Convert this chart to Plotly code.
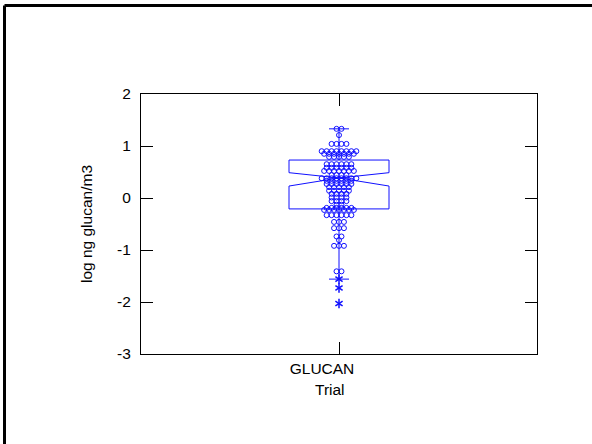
import plotly.graph_objects as go

# ---- data ----
category = "GLUCAN"
# dot-density rows: value (log ng glucan/m3) and number of observations in the row
row_values = [1.33, 1.21, 1.04, 0.90, 0.85, 0.79, 0.65, 0.58, 0.52, 0.44, 0.38, 0.33,
              0.27, 0.21, 0.14, 0.08, 0.01, -0.06, -0.13, -0.19, -0.23, -0.33, -0.46,
              -0.58, -0.74, -0.81, -0.92, -1.41]
row_counts = [2, 1, 4, 8, 7, 5, 6, 6, 7, 4, 8, 6,
              6, 5, 5, 4, 4, 4, 2, 6, 7, 6, 3,
              3, 2, 1, 3, 2]
outliers = [-1.56, -1.73, -2.03]
# box statistics
q1, median, q3 = -0.21, 0.385, 0.73
notch_low, notch_high = 0.23, 0.487
whisker_low, whisker_high = -1.56, 1.33
y_ticks = [-3, -2, -1, 0, 1, 2]
y_tick_text = ["-3", "-2", "-1", "0", "1", "2"]

BLUE = "#1010ff"
box_half = 0.2525
cap_half = 0.0505
dot_step = 0.025

fig = go.Figure()

# notched box outline
bx = [-box_half, -box_half, 0, -box_half, -box_half, box_half, box_half, 0, box_half, box_half, -box_half]
by = [q1, notch_low, median, notch_high, q3, q3, notch_high, median, notch_low, q1, q1]
fig.add_trace(go.Scatter(x=bx, y=by, mode="lines", line=dict(color=BLUE, width=1), hoverinfo="skip"))

# whiskers and caps
fig.add_trace(go.Scatter(x=[0, 0, None, 0, 0, None, -cap_half, cap_half, None, -cap_half, cap_half],
                         y=[q3, whisker_high, None, q1, whisker_low, None, whisker_high, whisker_high, None,
                            whisker_low, whisker_low],
                         mode="lines", line=dict(color=BLUE, width=1), hoverinfo="skip"))

# dots
dx, dy = [], []
for v, n in zip(row_values, row_counts):
    for i in range(n):
        dx.append((i - (n - 1) / 2) * dot_step)
        dy.append(v)
fig.add_trace(go.Scatter(x=dx, y=dy, mode="markers",
                         marker=dict(symbol="circle-open", size=5, color=BLUE, line=dict(width=1, color=BLUE))))

# outside values (six-armed asterisks)
for sym in ["y-up", "y-down"]:
    fig.add_trace(go.Scatter(x=[0] * len(outliers), y=outliers, mode="markers",
                             marker=dict(symbol=sym, size=6, color=BLUE, line=dict(width=1.5, color=BLUE))))

font = dict(family="Liberation Sans, Arial", size=15.5, color="black")
fig.update_layout(
    width=592, height=444,
    margin=dict(l=141, r=55, t=94, b=90),
    paper_bgcolor="white", plot_bgcolor="white",
    showlegend=False,
    font=font,
    xaxis=dict(range=[-1, 1], tickvals=[0], ticktext=[category], ticklabelshift=-17,
               ticks="inside", ticklen=12, tickcolor="black", mirror="ticks",
               showline=True, linecolor="black", linewidth=1, showgrid=False, zeroline=False),
    yaxis=dict(range=[-3, 2], tickvals=y_ticks, ticktext=y_tick_text, ticks="inside", ticklen=12,
               tickcolor="black", mirror="ticks", showline=True, linecolor="black", linewidth=1,
               showgrid=False, zeroline=False, ticklabelstandoff=6,
               title=dict(text="log ng glucan/m3", standoff=20, font=font)),
    annotations=[dict(text="Trial", xref="paper", yref="paper", x=(330 - 141) / 396,
                      y=(354 - 389) / 260, showarrow=False, font=font, xanchor="center", yanchor="middle")],
    shapes=[
        dict(type="line", xref="paper", yref="paper", x0=(4.5 - 141) / 396, x1=(4.5 - 141) / 396,
             y0=(354 - 5.5) / 260, y1=(354 - 460) / 260, line=dict(color="black", width=3)),
        dict(type="line", xref="paper", yref="paper", x0=(4.5 - 141) / 396, x1=(600 - 141) / 396,
             y0=(354 - 5.5) / 260, y1=(354 - 5.5) / 260, line=dict(color="black", width=3)),
    ],
)
fig.write_html("out.html")
